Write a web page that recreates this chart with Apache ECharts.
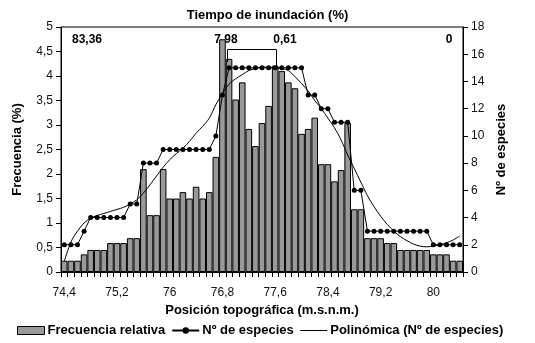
<!DOCTYPE html>
<html><head><meta charset="utf-8">
<script src="https://cdn.jsdelivr.net/npm/echarts@6/dist/echarts.min.js"></script>
<style>html,body{margin:0;padding:0;background:#fff}#c{width:535px;height:343px}</style>
</head><body><div id="c"></div>
<script>
const categories = ["74,4","74,5","74,6","74,7","74,8","74,9","75","75,1","75,2","75,3","75,4","75,5","75,6","75,7","75,8","75,9","76","76,1","76,2","76,3","76,4","76,5","76,6","76,7","76,8","76,9","77","77,1","77,2","77,3","77,4","77,5","77,6","77,7","77,8","77,9","78","78,1","78,2","78,3","78,4","78,5","78,6","78,7","78,8","78,9","79","79,1","79,2","79,3","79,4","79,5","79,6","79,7","79,8","79,9","80","80,1","80,2","80,3","80,4"];
const frecuencia = [0.23,0.23,0.23,0.36,0.45,0.45,0.45,0.59,0.59,0.59,0.69,0.69,2.1,1.16,1.16,2.1,1.5,1.5,1.63,1.5,1.74,1.5,1.63,2.35,4.75,4.35,3.52,3.87,2.92,2.57,3.04,3.39,4.21,4.1,3.87,3.75,2.82,2.92,3.15,2.2,2.2,1.85,2.08,3.04,1.28,1.28,0.69,0.69,0.69,0.59,0.59,0.45,0.45,0.45,0.45,0.45,0.36,0.36,0.36,0.23,0.23];
const especies = [2,2,2,3,4,4,4,4,4,4,5,5,8,8,8,9,9,9,9,9,9,9,9,10,13,15,15,15,15,15,15,15,15,15,15,15,15,13,13,12,12,11,11,11,6,6,3,3,3,3,3,3,3,3,3,3,2,2,2,2,2];
const polinomica = [0.8,2.2,3.0,3.6,3.95,4.15,4.3,4.45,4.6,4.75,5.0,5.3,5.8,6.4,7.05,7.7,8.25,8.7,9.1,9.6,10.2,10.7,11.3,12.3,13.1,13.8,14.2,14.5,14.8,14.95,15.05,15.05,15.0,14.95,14.8,14.35,13.85,13.3,12.6,12.0,11.3,10.6,9.7,8.6,7.6,6.6,5.6,4.8,4.1,3.5,3.0,2.6,2.3,2.05,1.9,1.85,1.9,2.0,2.15,2.35,2.65];
const tiempoLabels = ["83,36","7,98","0,61","0"];

const FONT = '"Liberation Sans", Arial, sans-serif';
const chart = echarts.init(document.getElementById('c'), null, {renderer:'canvas'});
chart.setOption({
  animation:false,
  backgroundColor:'#fff',
  textStyle:{fontFamily:FONT},
  grid:{left:61, right:72, top:27, bottom:71, show:true, borderColor:'#000', borderWidth:1, backgroundColor:'transparent'},
  legend:{
    left:12, top:319, itemGap:6, itemWidth:27, itemHeight:8,
    textStyle:{fontFamily:FONT, fontSize:13, fontWeight:'bold', color:'#000', padding:[0,0,0,-2]},
    data:[
      {name:'Frecuencia relativa', icon:'rect', itemStyle:{color:'#999999', borderColor:'#000', borderWidth:1}},
      {name:'Nº de especies'},
      {name:'Polinómica (Nº de especies)', itemStyle:{color:'rgba(0,0,0,0)', borderWidth:0}, lineStyle:{color:'#000', width:1}}
    ]
  },
  xAxis:[{
    type:'category', data:categories, boundaryGap:true, position:'bottom',
    name:'Posición topográfica (m.s.n.m.)', nameLocation:'middle', nameGap:31,
    nameTextStyle:{fontFamily:FONT, fontSize:13, fontWeight:'bold', color:'#000'},
    axisLine:{lineStyle:{color:'#000', width:1}},
    axisTick:{show:true, interval:0, length:5, lineStyle:{color:'#000'}},
    axisLabel:{interval:7, margin:15, fontFamily:FONT, fontSize:12, color:'#111'},
    splitLine:{show:false}
  }],
  yAxis:[{
    type:'value', min:0, max:5, interval:0.5, position:'left',
    name:'Frecuencia (%)', nameLocation:'middle', nameGap:37, nameRotate:90,
    nameTextStyle:{fontFamily:FONT, fontSize:13, fontWeight:'bold', color:'#000'},
    axisLine:{show:true, lineStyle:{color:'#000'}},
    axisTick:{show:true, length:5, lineStyle:{color:'#000'}},
    axisLabel:{margin:8, fontFamily:FONT, fontSize:12, color:'#111', formatter:v=>String(v).replace('.',',')},
    splitLine:{show:false}
  },{
    type:'value', min:0, max:18, interval:2, position:'right',
    name:'Nº de especies', nameLocation:'middle', nameGap:32, nameRotate:90,
    nameTextStyle:{fontFamily:FONT, fontSize:13, fontWeight:'bold', color:'#000'},
    axisLine:{show:true, lineStyle:{color:'#000'}},
    axisTick:{show:true, length:5, lineStyle:{color:'#000'}},
    axisLabel:{margin:8, fontFamily:FONT, fontSize:12, color:'#111'},
    splitLine:{show:false}
  }],
  series:[{
    name:'Frecuencia relativa', type:'bar', data:frecuencia, yAxisIndex:0,
    barCategoryGap:'0%', itemStyle:{color:'#999999', borderColor:'#000', borderWidth:1}, z:1
  },{
    name:'Nº de especies', type:'line', data:especies, yAxisIndex:1,
    symbol:'circle', symbolSize:5, showSymbol:true, showAllSymbol:true,
    lineStyle:{color:'#000', width:1}, itemStyle:{color:'#000'}, z:3
  },{
    name:'Polinómica (Nº de especies)', type:'line', data:polinomica, yAxisIndex:1,
    symbol:'none', smooth:0.3, lineStyle:{color:'#000', width:1}, itemStyle:{color:'#000'}, z:2
  }],
  graphic:[
    {type:'text', left:'center', top:9, style:{text:'Tiempo de inundación (%)', font:'bold 13px '+FONT, fill:'#000'}},
    {type:'text', x:72, y:34, style:{text:tiempoLabels[0], font:'bold 12px '+FONT, fill:'#000'}},
    {type:'text', x:226, y:34, style:{text:tiempoLabels[1], font:'bold 12px '+FONT, fill:'#000', align:'center'}},
    {type:'text', x:285, y:34, style:{text:tiempoLabels[2], font:'bold 12px '+FONT, fill:'#000', align:'center'}},
    {type:'text', x:449, y:34, style:{text:tiempoLabels[3], font:'bold 12px '+FONT, fill:'#000', align:'center'}},
    {type:'polyline', shape:{points:[[227.5,62],[227.5,49.5],[276.5,49.5],[276.5,66]]}, style:{stroke:'#000', lineWidth:1, fill:null}, z:10}
  ]
});
</script></body></html>
